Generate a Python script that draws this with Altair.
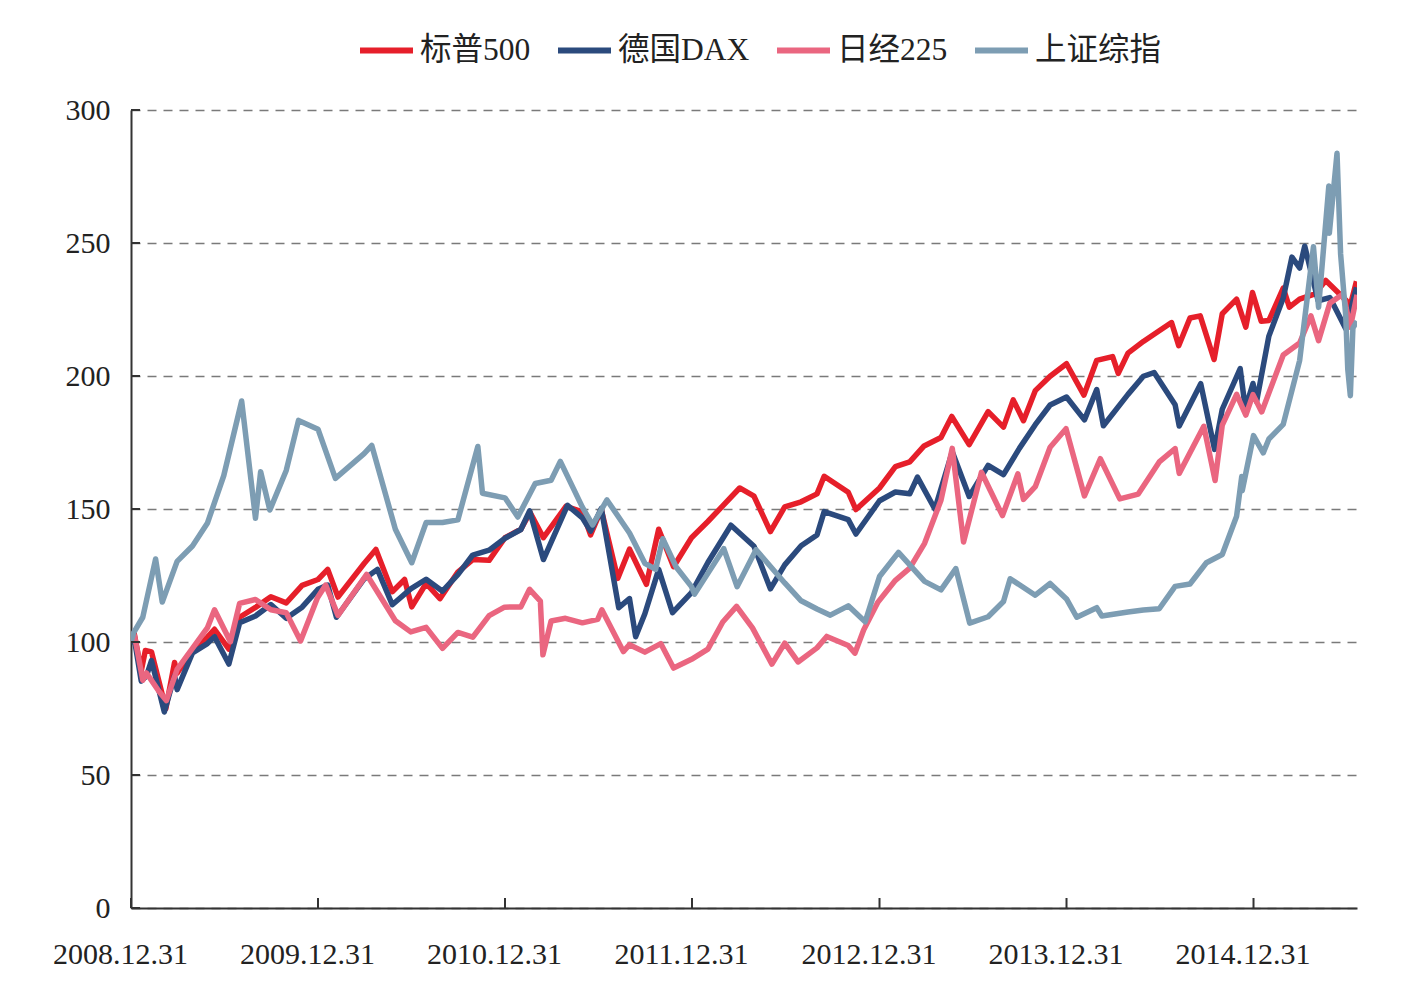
import altair as alt
import pandas as pd

series_names = ["标普500", "德国DAX", "日经225", "上证综指"]
series_colors = ["#e61f2a", "#2b4a7d", "#ea6680", "#7d9db3"]

spx_dates = ["2008-12-31","2009-01-06","2009-01-20","2009-01-28","2009-02-09","2009-03-09","2009-03-26","2009-03-31","2009-04-30","2009-05-29","2009-06-12","2009-07-10","2009-07-31","2009-08-31","2009-09-30","2009-10-30","2009-11-30","2009-12-31",
"2010-01-19","2010-02-08","2010-03-31","2010-04-23","2010-05-25","2010-06-18","2010-07-02","2010-07-30","2010-08-26","2010-09-30","2010-10-29","2010-11-30","2010-12-31",
"2011-01-31","2011-02-18","2011-03-16","2011-04-29","2011-05-31","2011-06-16","2011-07-07","2011-08-08","2011-08-31","2011-10-03","2011-10-27","2011-11-25","2011-12-30",
"2012-01-31","2012-02-29","2012-04-02","2012-04-30","2012-06-01","2012-06-29","2012-07-31","2012-08-31","2012-09-14","2012-10-31","2012-11-15","2012-12-31",
"2013-01-31","2013-02-28","2013-03-28","2013-04-30","2013-05-21","2013-06-24","2013-07-31","2013-08-30","2013-09-18","2013-10-08","2013-10-31","2013-11-29","2013-12-31",
"2014-02-03","2014-02-28","2014-03-31","2014-04-11","2014-04-30","2014-05-30","2014-06-30","2014-07-24","2014-08-07","2014-08-29","2014-09-18","2014-10-15","2014-10-31","2014-11-28","2014-12-16","2014-12-29",
"2015-01-15","2015-01-30","2015-02-27","2015-03-11","2015-03-31","2015-04-30","2015-05-21","2015-06-30","2015-07-08","2015-07-20"]
spx_vals = [100,103.5,89.1,96.8,96.3,74.9,92.3,88.3,96.6,101.8,104.8,97.3,109.3,113.0,117.0,114.7,121.3,123.5,
127.3,116.9,129.5,134.8,118.9,123.5,113.2,122.0,116.3,126.3,131.0,130.7,139.2,
142.4,148.7,139.2,151.0,148.9,140.3,149.8,123.9,134.9,121.7,142.4,128.3,139.2,
145.3,151.2,157.9,154.8,141.5,150.8,152.7,155.7,162.3,156.3,149.8,157.9,
165.9,167.7,173.7,176.9,184.8,174.2,186.6,180.8,191.0,183.2,194.5,199.9,204.6,
192.8,205.9,207.3,201.0,208.6,213.0,217.0,220.1,211.4,221.8,222.6,206.2,223.4,228.9,218.4,231.4,
220.6,220.9,233.0,225.9,228.9,230.9,235.9,228.4,226.6,235.6]

dax_dates = ["2008-12-31","2009-01-07","2009-01-20","2009-01-30","2009-02-09","2009-03-06","2009-03-26","2009-03-31","2009-04-30","2009-05-29","2009-06-12","2009-07-10","2009-07-31","2009-08-31","2009-09-30","2009-10-30","2009-11-30","2009-12-31",
"2010-01-19","2010-02-05","2010-03-31","2010-04-26","2010-05-25","2010-06-30","2010-07-30","2010-08-31","2010-09-30","2010-10-29","2010-11-30","2010-12-31",
"2011-01-31","2011-02-17","2011-03-16","2011-05-02","2011-05-31","2011-06-16","2011-07-07","2011-08-10","2011-08-31","2011-09-12","2011-09-30","2011-10-27","2011-11-23","2011-12-30",
"2012-01-31","2012-03-16","2012-04-30","2012-06-01","2012-06-29","2012-07-31","2012-08-31","2012-09-14","2012-10-31","2012-11-15","2012-12-31",
"2013-01-31","2013-02-28","2013-03-15","2013-04-18","2013-05-22","2013-06-24","2013-07-31","2013-08-30","2013-09-30","2013-10-31","2013-11-29","2013-12-31",
"2014-02-04","2014-02-28","2014-03-13","2014-04-30","2014-05-30","2014-06-20","2014-07-31","2014-08-08","2014-09-19","2014-10-16","2014-10-31","2014-12-05","2014-12-15","2014-12-30",
"2015-01-06","2015-01-30","2015-02-27","2015-03-16","2015-03-31","2015-04-10","2015-05-06","2015-05-29","2015-06-29","2015-07-20"]
dax_vals = [100,100.5,85.3,87.2,93.0,73.7,87.3,82.1,95.9,99.4,102.0,91.7,107.2,109.8,114.1,108.9,113.1,119.8,
121.4,109.3,123.7,127.3,114.0,120.0,123.6,119.1,125.3,132.7,134.5,139.0,
142.3,149.3,131.0,151.4,146.7,141.7,150.2,112.9,116.3,102.0,110.6,127.3,111.0,118.6,
129.9,143.9,136.0,120.0,129.0,136.2,140.2,149.0,146.0,140.6,153.1,
156.4,155.7,162.0,150.0,171.5,154.7,166.4,162.9,172.8,181.7,189.1,192.1,
183.5,194.9,181.3,193.1,199.9,201.3,189.2,181.2,197.1,172.4,187.5,202.8,187.7,197.2,
190.4,215.0,229.3,244.7,240.6,248.8,228.3,229.5,217.8,233.3]

nky_dates = ["2008-12-31","2009-01-07","2009-01-23","2009-01-30","2009-02-23","2009-03-10","2009-03-31","2009-04-30","2009-05-29","2009-06-12","2009-07-13","2009-07-31","2009-08-31","2009-09-30","2009-10-30","2009-11-27","2009-12-30",
"2010-01-15","2010-02-08","2010-04-05","2010-05-31","2010-06-30","2010-07-30","2010-08-31","2010-09-30","2010-10-29","2010-11-30","2010-12-30",
"2011-01-31","2011-02-17","2011-03-10","2011-03-15","2011-03-31","2011-04-28","2011-05-31","2011-06-30","2011-07-08","2011-08-19","2011-08-31","2011-09-30","2011-10-31","2011-11-25","2011-12-30",
"2012-01-31","2012-02-29","2012-03-27","2012-04-27","2012-06-04","2012-06-29","2012-07-25","2012-08-31","2012-09-19","2012-10-31","2012-11-13","2012-11-30","2012-12-28",
"2013-01-31","2013-02-28","2013-03-29","2013-04-30","2013-05-22","2013-06-13","2013-07-18","2013-08-28","2013-09-27","2013-10-08","2013-10-31","2013-11-29","2013-12-30",
"2014-02-04","2014-03-07","2014-04-14","2014-05-20","2014-06-30","2014-07-31","2014-08-08","2014-09-25","2014-10-17","2014-10-31","2014-11-28","2014-12-16","2014-12-30",
"2015-01-16","2015-02-27","2015-03-31","2015-04-22","2015-05-07","2015-05-29","2015-06-24","2015-07-08","2015-07-21"]
nky_vals = [100,102.2,85.6,88.4,81.6,78.0,89.7,97.6,105.3,112.1,100.1,114.5,116.0,112.1,111.0,100.4,116.6,
121.4,110.0,125.4,108.0,103.8,105.5,97.6,103.6,101.8,109.9,113.1,
113.2,119.8,115.4,95.2,107.9,108.9,107.2,108.5,112.1,96.4,99.0,96.2,99.4,90.2,93.5,
97.3,107.5,113.4,105.3,91.7,99.6,92.5,97.8,102.1,98.7,95.8,104.5,115.0,
123.2,127.8,137.1,153.3,172.8,137.6,163.8,147.5,163.2,153.6,158.4,173.2,180.2,
154.9,168.9,153.8,155.6,167.7,172.7,163.4,181.1,160.7,181.5,193.1,185.3,193.0,
186.5,207.9,212.4,222.6,213.3,227.4,230.8,218.3,230.5]

shc_dates = ["2008-12-31","2009-01-05","2009-01-23","2009-02-17","2009-03-02","2009-03-31","2009-04-30","2009-05-29","2009-06-30","2009-08-04","2009-08-31","2009-09-10","2009-09-28","2009-10-30","2009-11-23","2009-12-31",
"2010-02-03","2010-03-31","2010-04-15","2010-05-31","2010-07-02","2010-07-30","2010-08-31","2010-09-30","2010-11-08","2010-11-17","2010-12-31",
"2011-01-25","2011-02-28","2011-03-31","2011-04-18","2011-05-31","2011-06-20","2011-07-18","2011-08-31","2011-09-30","2011-10-21","2011-11-04","2011-11-30","2011-12-30",
"2012-01-05","2012-03-02","2012-03-28","2012-05-04","2012-06-29","2012-07-31","2012-08-31","2012-09-26","2012-10-31","2012-12-03","2012-12-31",
"2013-02-06","2013-03-29","2013-04-30","2013-05-29","2013-06-25","2013-07-31","2013-08-30","2013-09-12","2013-10-31","2013-11-29","2013-12-31",
"2014-01-20","2014-02-28","2014-03-10","2014-04-30","2014-05-30","2014-06-30","2014-07-31","2014-08-29","2014-09-30","2014-10-31","2014-11-28","2014-12-08","2014-12-09","2014-12-31",
"2015-01-19","2015-01-30","2015-02-27","2015-03-31","2015-04-27","2015-05-07","2015-05-27","2015-05-28","2015-06-12","2015-06-19","2015-06-29","2015-07-03","2015-07-08","2015-07-13","2015-07-21"]
shc_vals = [100,103.4,109.3,131.2,115.0,130.3,136.1,144.6,162.5,190.6,146.5,164.0,149.6,164.5,183.3,180.0,
161.5,170.8,173.9,142.4,129.8,144.9,144.9,145.9,173.5,155.9,154.2,
147.0,159.6,160.8,167.9,150.7,144.0,153.4,141.0,129.6,127.3,138.8,128.2,120.8,
118.0,135.1,120.8,134.7,122.2,115.5,112.4,110.1,113.6,107.6,124.6,
133.7,122.8,119.6,127.6,107.1,109.5,115.2,123.8,117.6,122.0,116.2,
109.3,112.9,109.8,111.3,112.0,112.5,120.9,121.8,129.8,132.9,147.3,162.2,156.9,177.6,
171.1,176.3,181.8,205.8,248.6,225.8,271.4,253.7,283.7,245.9,222.6,202.5,192.6,218.0,220.6]

x_tick_dates = ["2008-12-31", "2009-12-31", "2010-12-31", "2011-12-31", "2012-12-31", "2013-12-31", "2014-12-31"]
y_tick_values = [0, 50, 100, 150, 200, 250, 300]

rows = []
for name, ds, vs in zip(series_names, [spx_dates, dax_dates, nky_dates, shc_dates],
                        [spx_vals, dax_vals, nky_vals, shc_vals]):
    for d, v in zip(ds, vs):
        rows.append({"series": name, "date": d, "value": v})
df = pd.DataFrame(rows)

W, H = 1226, 798
FONT = "Liberation Serif, Noto Sans CJK SC"

x_scale = alt.Scale(domain=[alt.DateTime(year=2008, month=12, date=31, utc=True),
                            alt.DateTime(year=2015, month=7, date=21, utc=True)], nice=False)
y_scale = alt.Scale(domain=[0, 300], nice=False)

x_axis = alt.Axis(
    values=[alt.DateTime(year=int(d[:4]), month=int(d[5:7]), date=int(d[8:]), utc=True) for d in x_tick_dates],
    labelExpr="utcFormat(datum.value, '%Y.%m.%d')",
    title=None, grid=False, ticks=False, domain=True, domainColor="#333333", domainWidth=2,
    labelFont=FONT, labelFontSize=30, labelColor="#222222", labelPadding=31, labelOffset=-11,
    labelFlush=False, labelOverlap=False)
y_axis = alt.Axis(
    values=y_tick_values, title=None, grid=True, gridDash=[9, 7], gridColor="#7a7a7a", gridWidth=1.5,
    ticks=False, domain=True, domainColor="#333333", domainWidth=2,
    labelFont=FONT, labelFontSize=30, labelColor="#222222", labelPadding=21)

color_scale = alt.Scale(domain=series_names, range=series_colors)
legend = alt.Legend(orient="none", legendX=226, legendY=-89, direction="horizontal", title=None,
                    symbolType="stroke", symbolSize=2809, symbolStrokeWidth=6,
                    labelFont=FONT, labelFontSize=31.5, labelColor="#222222",
                    columnPadding=15, labelOffset=4, padding=0)

base = alt.Chart(df)
layers = []
for name in series_names:
    layers.append(
        base.transform_filter(alt.datum.series == name).mark_line(strokeWidth=5.5, strokeJoin="round", clip=True).encode(
            x=alt.X("date:T", scale=x_scale, axis=x_axis),
            y=alt.Y("value:Q", scale=y_scale, axis=y_axis),
            color=alt.Color("series:N", scale=color_scale, legend=legend),
        )
    )

xticks = alt.Chart(pd.DataFrame({"date": x_tick_dates})).mark_rule(color="#333333", strokeWidth=2).encode(
    x=alt.X("date:T", scale=x_scale, axis=x_axis), y=alt.value(H), y2=alt.value(H - 10))
yticks = alt.Chart(pd.DataFrame({"v": y_tick_values})).mark_rule(color="#333333", strokeWidth=2).encode(
    y=alt.Y("v:Q", scale=y_scale, axis=y_axis), x=alt.value(0), x2=alt.value(9))

chart = alt.layer(*layers, xticks, yticks).properties(
    width=W, height=H,
    autosize=alt.AutoSizeParams(type="none"),
    padding={"left": 131, "top": 110, "right": 53, "bottom": 89},
).configure(background="white", view=alt.ViewConfig(stroke=None))

chart.save("out.html", embed_options={"renderer": "svg", "actions": False})
